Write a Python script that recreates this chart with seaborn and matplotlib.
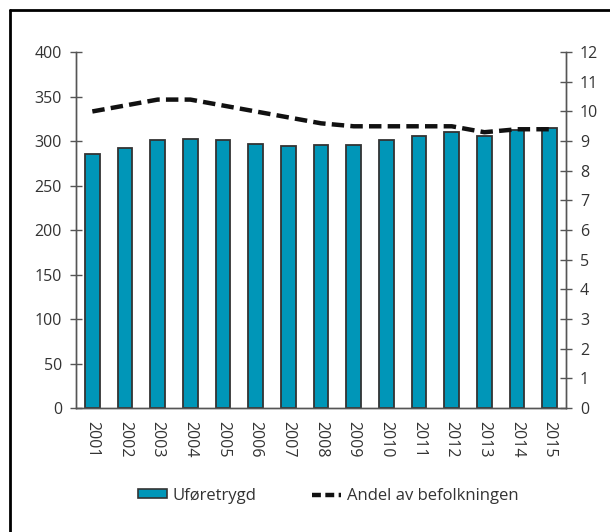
import numpy as np
import pandas as pd
import seaborn as sns
import matplotlib.pyplot as plt
from matplotlib.lines import Line2D
from matplotlib.patches import Patch

sns.set_style("white")
plt.rcParams['font.family'] = ['Open Sans', 'DejaVu Sans']

years = [str(y) for y in range(2001, 2016)]
uforetrygd = [285, 292, 301, 302, 301, 297, 295, 296, 296, 301, 306, 310, 306, 312, 315]
andel = [10.0, 10.2, 10.4, 10.4, 10.2, 10.0, 9.8, 9.6, 9.5, 9.5, 9.5, 9.5, 9.3, 9.4, 9.4]

df = pd.DataFrame({'year': years, 'uforetrygd': uforetrygd, 'andel': andel})

bar_col = '#0096B8'
txt_col = '#333333'
ax_col = '#555555'

fig = plt.figure(figsize=(6.1, 5.32), dpi=100)
ax = fig.add_axes([0.1246, 0.233, 0.8034, 0.669])

sns.barplot(data=df, x='year', y='uforetrygd', color=bar_col, width=0.45,
            edgecolor='#333333', linewidth=1.3, saturation=1, ax=ax)
ax.set_ylim(0, 400)
ax.set_xlim(-0.5, len(years) - 0.5)
ax.set_yticks(range(0, 401, 50))
ax.set_xlabel('')
ax.set_ylabel('')

ax2 = ax.twinx()
sns.lineplot(x=np.arange(len(years)), y=df['andel'], color='#111111', linewidth=3.2,
             linestyle=(0, (2.8, 1.4)), ax=ax2)
ax2.set_ylim(0, 12)
ax2.set_yticks(range(0, 13))
ax2.set_ylabel('')

# x ticks: labels at bar centres, tick marks between categories
ax.set_xticks(range(len(years)))
ax.set_xticklabels(years, rotation=270)
ax.set_xticks(np.arange(-0.5, len(years), 1), minor=True)
ax.tick_params(axis='x', which='major', length=0, pad=9, labelsize=11.5, labelcolor=txt_col)
ax.tick_params(axis='x', which='minor', length=8, direction='inout', color=ax_col, width=1)
ax.tick_params(axis='y', length=8, direction='inout', color=ax_col, width=1,
               labelsize=11.5, labelcolor=txt_col, pad=6)
ax2.tick_params(axis='y', length=8, direction='inout', color=ax_col, width=1,
                labelsize=11.5, labelcolor=txt_col, pad=6)

for a in (ax, ax2):
    a.spines['top'].set_visible(False)
    for s in ('left', 'right', 'bottom'):
        a.spines[s].set_color(ax_col)
        a.spines[s].set_linewidth(1)
ax.grid(False)
ax2.grid(False)

handles = [Patch(facecolor=bar_col, edgecolor='#333333', linewidth=1.2),
           Line2D([0], [0], color='#111111', linewidth=3.2, linestyle=(0, (2.0, 1.0)))]
fig.legend(handles, ['Uføretrygd', 'Andel av befolkningen'], loc='center',
           bbox_to_anchor=(0.538, 0.068), ncol=2, frameon=False, fontsize=12,
           handlelength=1.75, handleheight=0.45, columnspacing=3.3, handletextpad=0.35,
           labelcolor=txt_col)

# outer frame (left and top edges visible)
fig.add_artist(Line2D([10 / 610, 10 / 610], [0, 1 - 10 / 532], color='black', linewidth=2,
                      transform=fig.transFigure))
fig.add_artist(Line2D([10 / 610, 1], [1 - 10 / 532, 1 - 10 / 532], color='black', linewidth=2,
                      transform=fig.transFigure))

fig.savefig('out.png', dpi=100)
